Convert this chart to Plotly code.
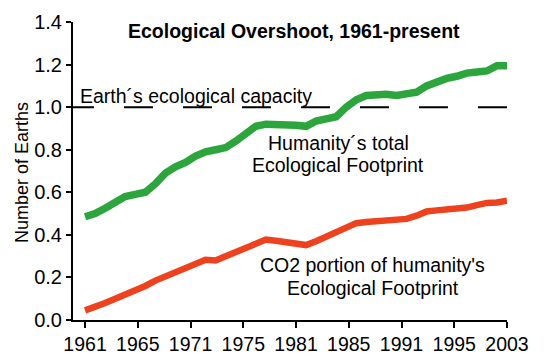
import plotly.graph_objects as go

years = list(range(1961, 2004))
total_footprint = [0.485, 0.50, 0.525, 0.555, 0.58, 0.59, 0.60, 0.64, 0.69, 0.72,
                   0.74, 0.77, 0.79, 0.80, 0.81, 0.84, 0.87, 0.91, 0.92, 0.92,
                   0.92, 0.915, 0.91, 0.935, 0.945, 0.955, 1.00, 1.035, 1.055, 1.06,
                   1.06, 1.055, 1.06, 1.07, 1.10, 1.12, 1.135, 1.145, 1.16, 1.165,
                   1.17, 1.195, 1.195]
co2_footprint = [0.045, 0.06, 0.08, 0.10, 0.12, 0.135, 0.16, 0.185, 0.205, 0.225,
                 0.245, 0.265, 0.283, 0.28, 0.30, 0.32, 0.34, 0.36, 0.378, 0.372,
                 0.365, 0.358, 0.352, 0.37, 0.39, 0.41, 0.43, 0.455, 0.46, 0.462,
                 0.465, 0.468, 0.475, 0.49, 0.51, 0.515, 0.518, 0.522, 0.528, 0.54,
                 0.55, 0.552, 0.56]
capacity_x = [1959.0, 2003]
capacity_y = [1.0, 1.0]
tick_labels = ["1961", "1965", "1971", "1975", "1981", "1985", "1991", "1995", "2003"]
tick_positions = [1961 + i * 42 / 8 for i in range(9)]
y_ticks = [0.0, 0.2, 0.4, 0.6, 0.8, 1.0, 1.2, 1.4]

FONT = "Liberation Sans, Arial, sans-serif"

fig = go.Figure()
fig.add_trace(go.Scatter(x=capacity_x, y=capacity_y, mode="lines",
                         line=dict(color="black", width=2, dash="29px,30px"),
                         hoverinfo="skip"))
fig.add_trace(go.Scatter(x=years, y=total_footprint, mode="lines",
                         line=dict(color="rgb(44,166,60)", width=7.5)))
fig.add_trace(go.Scatter(x=years, y=co2_footprint, mode="lines",
                         line=dict(color="rgb(238,66,30)", width=6.5)))

fig.update_layout(
    width=544, height=360,
    margin=dict(l=73, r=37, t=22, b=40),
    paper_bgcolor="white", plot_bgcolor="white",
    showlegend=False,
    font=dict(family=FONT, color="black"),
    xaxis=dict(range=[1959.8, 2003], tickvals=tick_positions, ticktext=tick_labels,
               automargin=False,
               showgrid=False, zeroline=False, showline=True, linecolor="black",
               linewidth=2, ticks="outside", ticklen=6, tickwidth=2, tickcolor="black",
               tickfont=dict(size=19.5, family=FONT, color="black")),
    yaxis=dict(range=[0, 1.4], tickvals=y_ticks, tickformat=".1f",
               automargin=False,
               showgrid=False, zeroline=False, showline=True, linecolor="black",
               linewidth=2, ticks="outside", ticklen=5, tickwidth=2, tickcolor="black",
               tickfont=dict(size=20, family=FONT, color="black")),
)

annos = [
    dict(text="<b>Ecological Overshoot, 1961-present</b>", x=294, y=31, size=19.5),
    dict(text="Number of Earths", x=22, y=173, textangle=-90, size=18),
    dict(text="Earth´s ecological capacity", x=79, y=96, xanchor="left"),
    dict(text="Humanity´s total", x=338, y=143),
    dict(text="Ecological Footprint", x=338, y=165),
    dict(text="CO2 portion of humanity's", x=372, y=265),
    dict(text="Ecological Footprint", x=373, y=288),
]
for a in annos:
    px, py = a.pop("x"), a.pop("y")
    size = a.pop("size", 19.5)
    a.update(x=(px - 73) / 434, y=(320 - py) / 298, xref="paper", yref="paper",
             xanchor=a.get("xanchor", "center"), yanchor="middle", showarrow=False,
             borderpad=0, font=dict(size=size, family=FONT, color="black"))
    fig.add_annotation(**a)

fig.write_html("out.html", config={"displayModeBar": False},
               post_script="document.body.style.margin='0';document.body.style.overflow='hidden';")
